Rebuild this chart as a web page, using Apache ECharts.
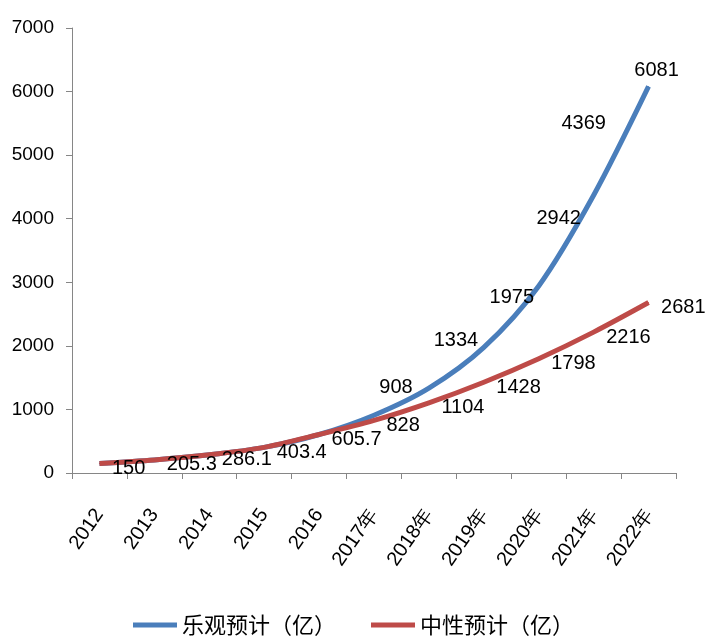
<!DOCTYPE html>
<html>
<head>
<meta charset="utf-8">
<script src="https://cdn.jsdelivr.net/npm/echarts@6/dist/echarts.min.js"></script>
<style>
  html, body { margin: 0; padding: 0; background: #fff; }
  #chart { width: 705px; height: 637px; }
</style>
</head>
<body>
<div id="chart"></div>
<script>
// 年份
const years = ['2012', '2013', '2014', '2015', '2016', '2017年', '2018年', '2019年', '2020年', '2021年', '2022年'];
// 乐观预计（亿）
const optimistic = [150, 205.3, 286.1, 403.4, 605.7, 908, 1334, 1975, 2942, 4369, 6081];
// 中性预计（亿）
const neutral = [150, 205.3, 286.1, 403.4, 605.7, 828, 1104, 1428, 1798, 2216, 2681];
const yTicks = [0, 1000, 2000, 3000, 4000, 5000, 6000, 7000];

// label nudges for the blue series (same as the hand-placed labels in the source)
const blueLabelShift = [null, null, null, null, null, [22, -12], [27, -32], [28, -34], [20, -52], [-10, -56], [8, 0]];

const numFont = 'Liberation Sans';
const cjkFont = 'Noto Sans CJK SC';

const blueData = optimistic.map((v, i) => {
  const shift = blueLabelShift[i];
  if (!shift) return { value: v, label: { show: false } };
  return { value: v, label: { show: true, position: 'top', distance: 5, offset: shift } };
});

const chart = echarts.init(document.getElementById('chart'));

const option = {
  animation: false,
  backgroundColor: '#ffffff',
  grid: {
    left: 72,
    right: 29,
    top: 28,
    bottom: 164,
    outerBoundsMode: 'none'
  },
  legend: {
    left: 128,
    top: 609,
    icon: 'rect',
    itemWidth: 44,
    itemHeight: 5,
    itemGap: 35,
    textStyle: { fontFamily: cjkFont, fontSize: 22, color: '#000' },
    data: ['乐观预计（亿）', '中性预计（亿）']
  },
  xAxis: {
    type: 'category',
    data: years,
    boundaryGap: true,
    axisLine: { lineStyle: { color: '#868686', width: 1 } },
    axisTick: { show: true, length: 6, alignWithLabel: false, lineStyle: { color: '#868686' } },
    axisLabel: {
      rotate: 55,
      margin: 38,
      interval: 0,
      fontFamily: numFont,
      fontSize: 20,
      color: '#000'
    }
  },
  yAxis: {
    type: 'value',
    min: yTicks[0],
    max: yTicks[yTicks.length - 1],
    interval: 1000,
    splitLine: { show: false },
    axisLine: { show: true, lineStyle: { color: '#868686', width: 1 } },
    axisTick: { show: true, length: 6, lineStyle: { color: '#868686' } },
    axisLabel: {
      margin: 18,
      fontFamily: numFont,
      fontSize: 19,
      color: '#000',
      formatter: v => String(v)
    }
  },
  series: [
    {
      name: '乐观预计（亿）',
      type: 'line',
      data: blueData,
      smooth: 0.3,
      symbol: 'circle',
      symbolSize: 1,
      showSymbol: true,
      lineStyle: { color: '#4A7EBB', width: 5 },
      itemStyle: { color: '#4A7EBB' },
      label: { fontFamily: numFont, fontSize: 20, color: '#000' },
      z: 2
    },
    {
      name: '中性预计（亿）',
      type: 'line',
      data: neutral,
      smooth: 0.3,
      symbol: 'circle',
      symbolSize: 1,
      showSymbol: true,
      lineStyle: { color: '#BE4B48', width: 5 },
      itemStyle: { color: '#BE4B48' },
      label: {
        show: true,
        position: 'right',
        distance: 12,
        offset: [0, 5],
        fontFamily: numFont,
        fontSize: 20,
        color: '#000'
      },
      z: 3
    }
  ]
};

chart.setOption(option);
</script>
</body>
</html>
